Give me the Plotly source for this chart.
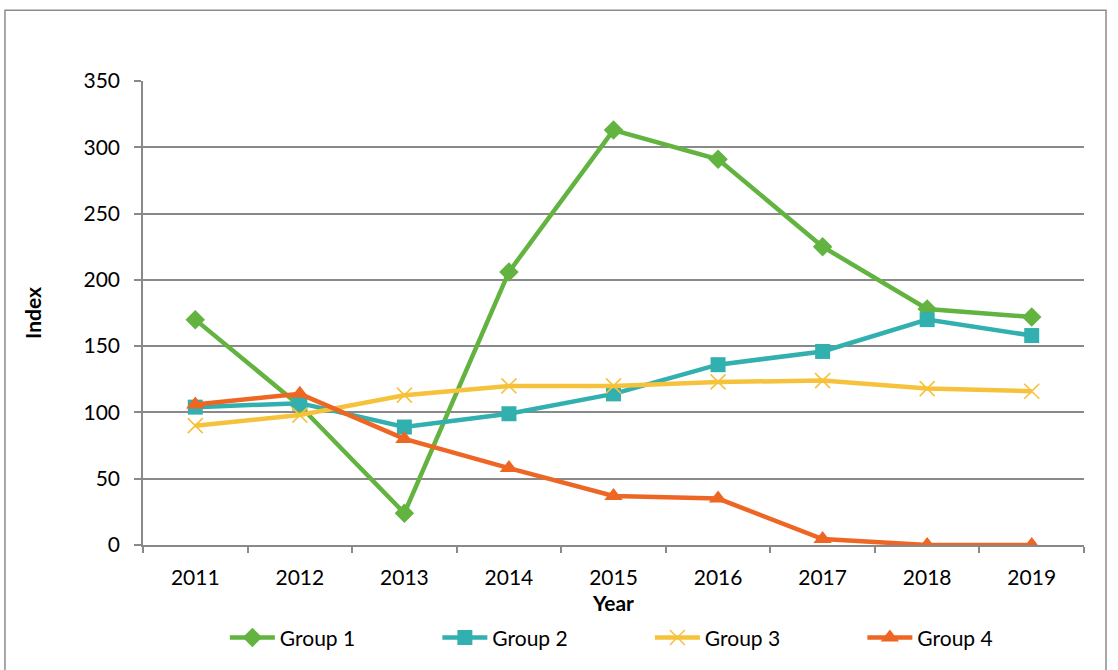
import plotly.graph_objects as go

years = ["2011", "2012", "2013", "2014", "2015", "2016", "2017", "2018", "2019"]
group1 = [170, 105, 24, 206, 313, 291, 225, 178, 172]
group2 = [104, 107, 89, 99, 114, 136, 146, 170, 158]
group3 = [90, 98, 113, 120, 120, 123, 124, 118, 116]
group4 = [106, 114, 80, 58, 37, 35, 4.5, 0, 0]

series = [
    ("Group 1", group1, "#62B340", "diamond", 15, None),
    ("Group 2", group2, "#32B0AF", "square", 15, None),
    ("Group 3", group3, "#F6C23B", "x-thin-open", 15, 1.6),
    ("Group 4", group4, "#EE6624", "triangle-up", 16, None),
]

FONT = "Lato, 'Open Sans', sans-serif"

fig = go.Figure()
for name, vals, color, sym, size, lw in series:
    marker = dict(symbol=sym, size=size, color=color)
    if lw:
        marker["line"] = dict(color=color, width=lw)
    fig.add_trace(go.Scatter(
        x=years, y=vals, name=name, mode="lines+markers",
        line=dict(color=color, width=4.5),
        marker=marker,
    ))

fig.update_layout(
    width=1118, height=670,
    margin=dict(l=143, r=34, t=81, b=121),
    paper_bgcolor="white", plot_bgcolor="white",
    font=dict(family=FONT, size=21, color="black"),
    showlegend=True,
    legend=dict(orientation="h", x=0.087, xanchor="left", y=-0.2, yanchor="middle",
                entrywidth=152.5, entrywidthmode="pixels",
                font=dict(family=FONT, size=21), itemwidth=45),
    xaxis=dict(
        type="category", range=[-0.5, 8.5], automargin=False,
        showgrid=False, showline=True, linecolor="#898989", linewidth=1.5,
        ticks="outside", tickson="boundaries", ticklen=6, tickcolor="#898989", tickwidth=1.5,
        ticklabelstandoff=13,
        title=dict(text="<b>Year</b>", standoff=8, font=dict(size=21)),
        zeroline=False,
    ),
    yaxis=dict(
        range=[0, 350], dtick=50, tick0=0, automargin=False,
        showgrid=True, gridcolor="#898989", gridwidth=1.5,
        showline=True, linecolor="#898989", linewidth=1.5,
        ticks="outside", ticklen=7, tickcolor="#898989", tickwidth=1.5,
        ticklabelstandoff=10,
        title=dict(text="<b>Index</b>", standoff=36, font=dict(size=21)),
        zeroline=False,
    ),
    shapes=[dict(type="rect", xref="paper", yref="paper",
                 x0=-0.1467, x1=1.0234, y0=-0.3, y1=1.1524,
                 line=dict(color="#8C8C8C", width=1.5), fillcolor="rgba(0,0,0,0)", layer="below")],
)

fig.write_html("out.html", config={"displayModeBar": False},
               post_script="document.body.style.margin='0';")
